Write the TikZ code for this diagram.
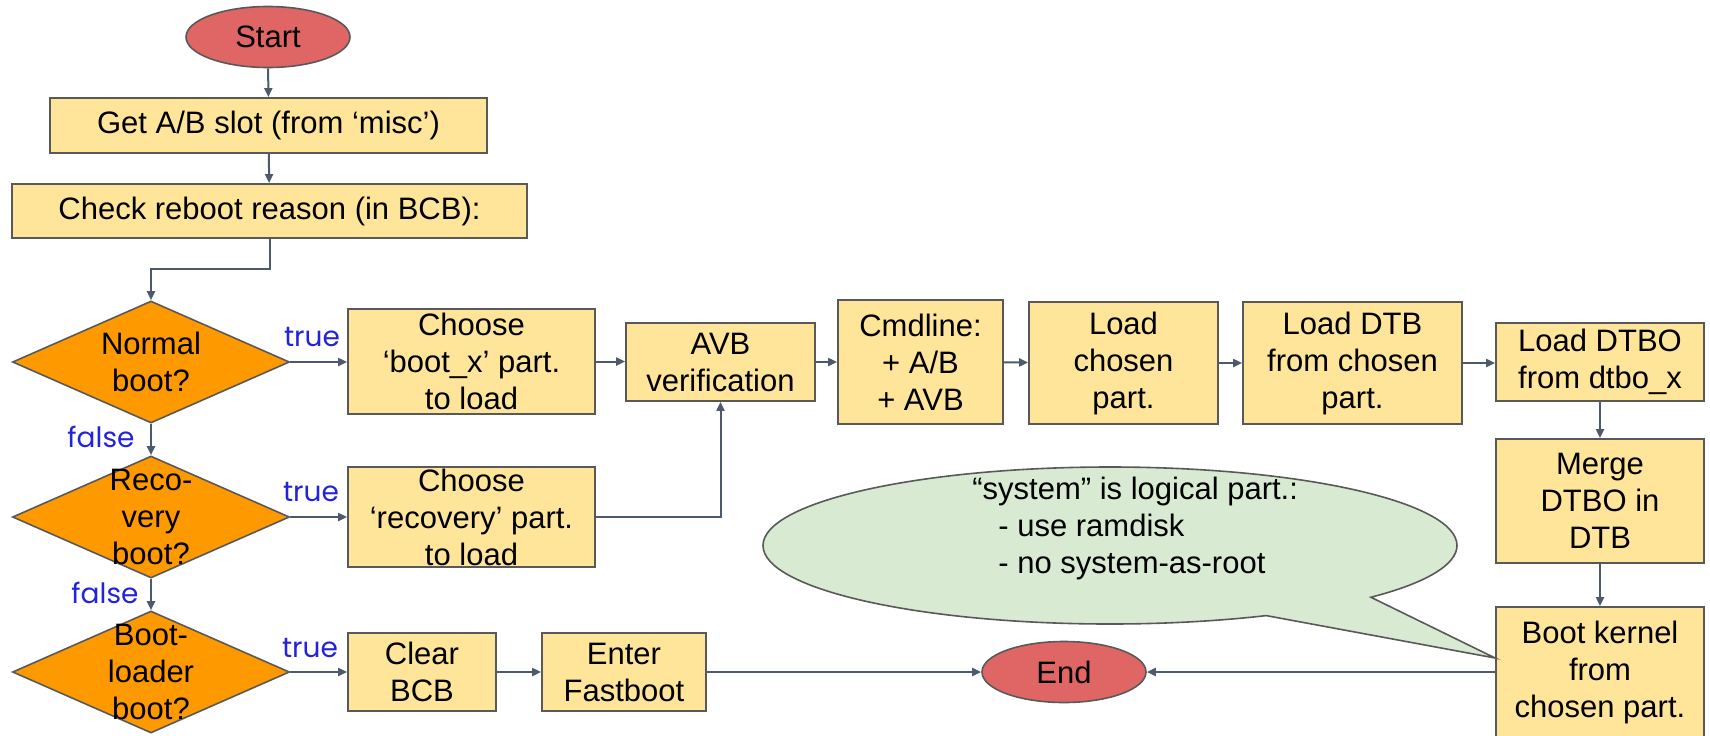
\documentclass[tikz,border=0pt]{standalone}
\usepackage{fontspec}
\setmainfont{Liberation Sans}
\newfontfamily\tffont{Poppins}
\usetikzlibrary{arrows.meta,shapes.geometric,shapes.callouts,calc}

\definecolor{boxfill}{HTML}{FFE599}
\definecolor{edge}{HTML}{595959}
\definecolor{decfill}{HTML}{FF9900}
\definecolor{termfill}{HTML}{E06666}
\definecolor{notefill}{HTML}{D9EAD3}
\definecolor{linec}{HTML}{4D5A6C}
\definecolor{tfblue}{HTML}{2323DC}

\tikzset{
  every node/.style={font=\fontsize{15.5}{18.5}\selectfont},
  stepbox/.style={draw=edge, line width=0.9pt, fill=boxfill, align=center, inner sep=0pt},
  term/.style={ellipse, draw=edge, line width=0.8pt, fill=termfill, inner sep=0pt,
    minimum width=82pt, minimum height=30.5pt},
  decision/.style={diamond, draw=edge, line width=0.8pt, fill=decfill, inner sep=0pt,
    minimum width=138.5pt, minimum height=61pt},
  dtext/.style={align=center, inner sep=0pt},
  conn/.style={draw=linec, line width=1pt, -{Triangle[length=4.5pt,width=4pt]}},
  tf/.style={text=tfblue, font=\tffont\fontsize{14}{16}\selectfont, inner sep=0pt},
}

\begin{document}
\begin{tikzpicture}[x=0.5pt,y=-0.5pt]
\useasboundingbox (0,0) rectangle (1710,735);
\fill[white] (0,0) rectangle (1710,735);

% entry and setup steps
\node[term] (start) at (268,37) {Start};
\node[stepbox, minimum width=218.5pt, minimum height=27.5pt] (getab) at (268.5,125.5) {Get A/B slot (from ‘misc’)};
\node[stepbox, minimum width=257.5pt, minimum height=27pt] (check) at (269.5,211) {Check reboot reason (in BCB):};

% decisions
\node[decision, label={[dtext]center:Normal\\boot?}] (d1) at (151,362) {};
\node[decision, label={[dtext]center:Reco-\\very\\boot?}] (d2) at (151,517) {};
\node[decision, label={[dtext]center:Boot-\\loader\\boot?}] (d3) at (151,672) {};

% boot path
\node[stepbox, minimum width=123.5pt, minimum height=52.5pt] (ch1) at (471.5,361.5) {Choose\\‘boot\_x’ part.\\to load};
\node[stepbox, minimum width=123.5pt, minimum height=50pt] (ch2) at (471.5,517) {Choose\\‘recovery’ part.\\to load};
\node[stepbox, minimum width=74pt, minimum height=39pt] (clear) at (422,672) {Clear\\BCB};
\node[stepbox, minimum width=82pt, minimum height=39pt] (enter) at (624,672) {Enter\\Fastboot};
\node[term] (end) at (1064,672) {End};
\node[stepbox, minimum width=94.5pt, minimum height=39pt] (avb) at (720.5,362) {AVB\\verification};
\node[stepbox, minimum width=82.5pt, minimum height=62pt] (cmd) at (920.5,362) {Cmdline:\\+ A/B\\+ AVB};
\node[stepbox, minimum width=94.5pt, minimum height=61pt] (loadc) at (1123.5,363) {Load\\chosen\\part.};
\node[stepbox, minimum width=109.5pt, minimum height=61pt] (dtb) at (1352.5,363) {Load DTB\\from chosen\\part.};
\node[stepbox, minimum width=104pt, minimum height=39pt] (dtbo) at (1600,362) {Load DTBO\\from dtbo\_x};
\node[stepbox, minimum width=104pt, minimum height=62pt] (merge) at (1600,501) {Merge\\DTBO in\\DTB};
\node[stepbox, minimum width=104pt, minimum height=65pt] (bk) at (1600,672) {Boot kernel\\from\\chosen part.};

% note bubble
\coordinate (tip) at ($(bk.west)+(0,-14)$);
\node[ellipse callout, draw=edge, line width=0.8pt, fill=notefill, inner sep=0pt,
  minimum width=347pt, minimum height=78.5pt,
  callout absolute pointer={(tip)}, callout pointer arc=22] (note) at (1110,545.5) {};
\node[align=left, anchor=west, inner sep=0pt] (notetext) at (972,528)
  {“system” is logical part.:\\\hspace*{13pt}- use ramdisk\\\hspace*{13pt}- no system-as-root};

% branch labels
\node[tf] (t1) at (312,337) {true};
\node[tf] (t2) at (311,492) {true};
\node[tf] (t3) at (310,648) {true};
\node[tf] (f1) at (101,437) {false};
\node[tf] (f2) at (105,593) {false};

% connectors
\draw[conn] (start) -- (getab);
\draw[conn] (getab) -- (check);
\draw[conn] (check.south) -- ++(0,30) -| (d1.north);
\draw[conn] (d1.east) -- (d1.east -| ch1.west);
\draw[conn] (d1.south) -- (d2.north);
\draw[conn] (d2.east) -- (d2.east -| ch2.west);
\draw[conn] (d2.south) -- (d3.north);
\draw[conn] (d3.east) -- (d3.east -| clear.west);
\draw[conn] (clear) -- (enter);
\draw[conn] (enter) -- (end);
\draw[conn] (ch1.east) -- (ch1.east -| avb.west);
\draw[conn] (ch2.east) -| (avb.south);
\draw[conn] (avb) -- (cmd);
\draw[conn] (cmd) -- (loadc);
\draw[conn] (loadc) -- (dtb);
\draw[conn] (dtb.east) -- (dtb.east -| dtbo.west);
\draw[conn] (dtbo) -- (merge);
\draw[conn] (merge) -- (bk);
\draw[conn] (bk) -- (end);
\end{tikzpicture}
\end{document}
